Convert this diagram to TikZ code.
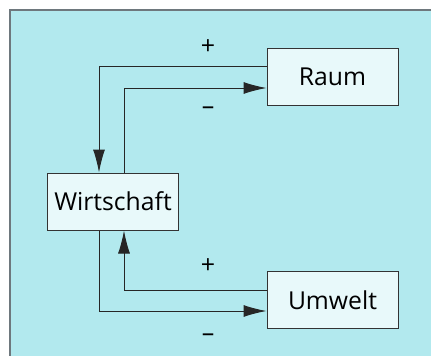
\documentclass[tikz,border=0pt]{standalone}
\usepackage{fontspec}
\setmainfont{Open Sans}
\usetikzlibrary{arrows.meta}
\usetikzlibrary{calc}

\definecolor{bgcyan}{RGB}{178,233,238}
\definecolor{boxcyan}{RGB}{232,249,250}
\definecolor{framegray}{RGB}{110,120,125}

\begin{document}
\begin{tikzpicture}[
    x=1pt, y=-1pt,
    block/.style={align=center, rectangle, draw=black!80, fill=boxcyan, line width=1pt,
        minimum width=131pt, minimum height=57pt, inner sep=0pt, font=\fontsize{24.7}{28}\selectfont},
    sign/.style={font=\fontsize{25}{28}\selectfont},
    conn/.style={line width=1pt, draw=black!85, -{Latex[length=23pt,width=12pt]}},
]
    \useasboundingbox (0,0) rectangle (431,356);
    \fill[white] (0,0) rectangle (431,356);
    \draw[fill=bgcyan, draw=framegray, line width=1.5pt] (10,10) rectangle (440,370);

    \node[block] (raum) at (332.5,76.5) {Raum};
    \node[block] (wirt) at (113,201.5) {Wirtschaft};
    \node[block] (umwelt) at (332.5,300) {Umwelt};

    \draw[conn] ($(raum.west)+(0,-10.5)$) -| ($(wirt.north)+(-14,0)$);
    \draw[conn] ($(wirt.north)+(11,0)$) |- ($(raum.west)+(0,11.5)$);
    \draw[conn] ($(umwelt.west)+(0,-10)$) -| ($(wirt.south)+(11,0)$);
    \draw[conn] ($(wirt.south)+(-14,0)$) |- ($(umwelt.west)+(0,11)$);

    \node[sign] (p1) at (208,47) {+};
    \node[sign] (m1) at (208,111) {--};
    \node[sign] (p2) at (208,266) {+};
    \node[sign] (m2) at (208,338) {--};

\end{tikzpicture}
\end{document}
